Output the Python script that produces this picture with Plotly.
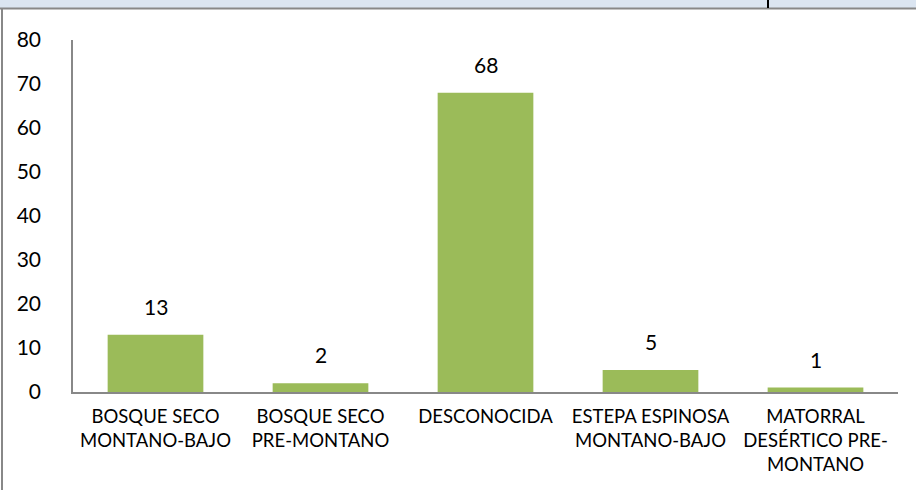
import plotly.graph_objects as go

categories = ["BOSQUE SECO<br>MONTANO-BAJO", "BOSQUE SECO<br>PRE-MONTANO", "DESCONOCIDA",
              "ESTEPA ESPINOSA<br>MONTANO-BAJO", "MATORRAL<br>DESÉRTICO PRE-<br>MONTANO"]
values = [13, 2, 68, 5, 1]
y_ticks = [0, 10, 20, 30, 40, 50, 60, 70, 80]

W, H = 916, 490
ML, MR, MT, MB = 73, 18, 40, 98
plot_h = H - MT - MB

def py(pix):
    # pixel row -> paper y
    return 1 + (MT - pix) / plot_h

def px(pix):
    return (pix - ML) / (W - ML - MR)

font_family = "Lato, Carlito, Calibri, sans-serif"

fig = go.Figure()
fig.add_trace(go.Bar(x=categories, y=values, marker=dict(color="#9bbb59", line=dict(width=0)),
                     width=0.58, hoverinfo="skip"))

for c, v in zip(categories, values):
    fig.add_annotation(x=c, y=v, text=str(v), showarrow=False, yanchor="bottom", yshift=14,
                       font=dict(size=21, color="#000000", family=font_family))

shapes = [
    dict(type="rect", xref="paper", yref="paper", x0=px(0), x1=px(W), y0=py(8), y1=py(0),
         fillcolor="#dbe5f1", line=dict(width=0), layer="above"),
    dict(type="line", xref="paper", yref="paper", x0=px(0), x1=px(W), y0=py(8.5), y1=py(8.5),
         line=dict(color="#888888", width=2), layer="above"),
    dict(type="line", xref="paper", yref="paper", x0=px(768), x1=px(768), y0=py(0), y1=py(8),
         line=dict(color="#000000", width=2), layer="above"),
    dict(type="line", xref="paper", yref="paper", x0=px(2), x1=px(2), y0=py(8), y1=py(H),
         line=dict(color="#888888", width=2), layer="above"),
]

fig.update_layout(
    width=W, height=H,
    margin=dict(l=ML, r=MR, t=MT, b=MB),
    paper_bgcolor="white", plot_bgcolor="white",
    showlegend=False,
    shapes=shapes,
    font=dict(family=font_family, color="#000000"),
    xaxis=dict(showline=True, linecolor="#888888", linewidth=2, ticks="", showgrid=False,
               tickfont=dict(size=18.5), tickangle=0, ticklabelstandoff=7),
    yaxis=dict(range=[0, 80], tickvals=y_ticks, showline=True, linecolor="#888888", linewidth=1.5,
               ticks="", showgrid=False, zeroline=False, tickfont=dict(size=21),
               ticklabelstandoff=26),
)

fig.write_html("out.html", config={"displayModeBar": False},
               post_script="document.body.style.margin='0';")
